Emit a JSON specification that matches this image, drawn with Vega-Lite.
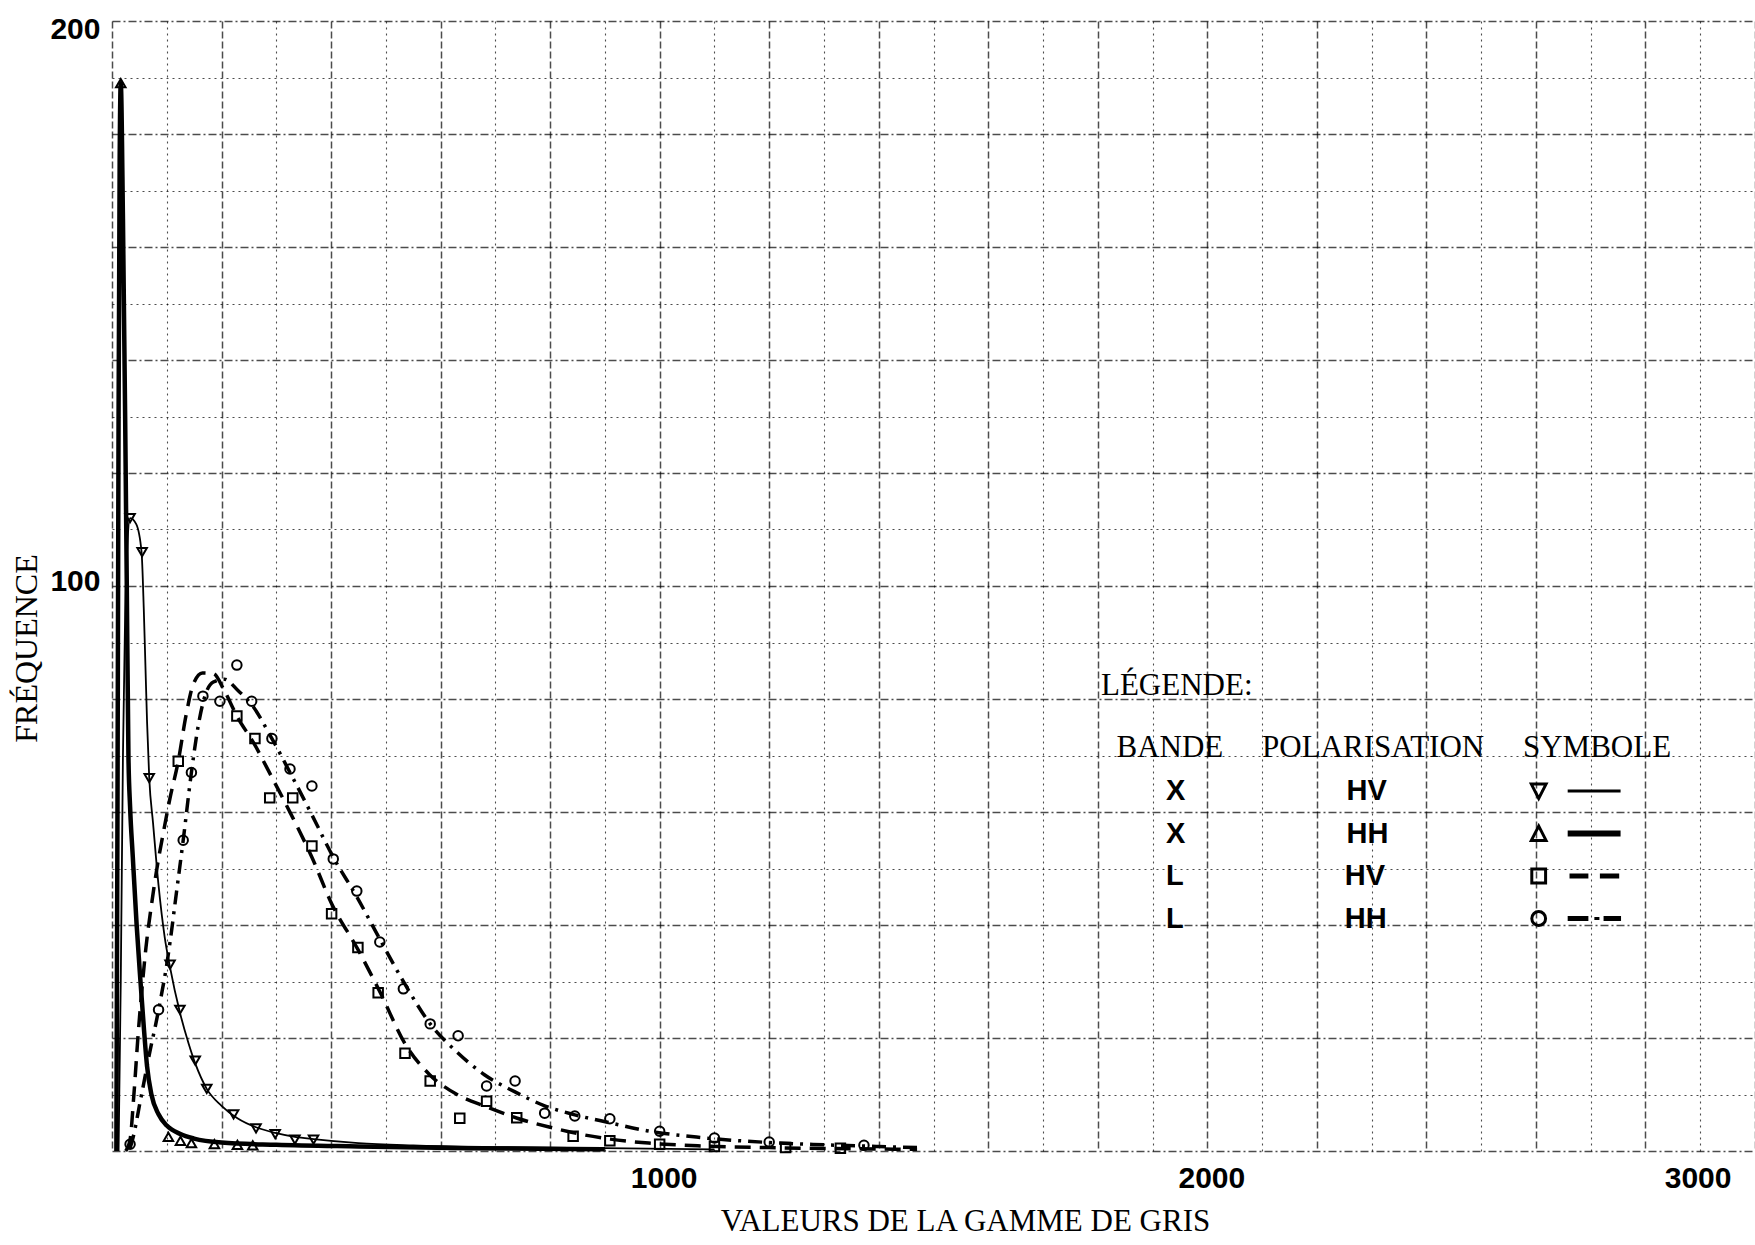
{
  "$schema": "https://vega.github.io/schema/vega-lite/v6.json",
  "width": 1643,
  "height": 1130,
  "autosize": {"type": "none"},
  "padding": {"left": 112, "top": 21, "right": 0, "bottom": 94},
  "background": "white",
  "config": {"view": {"stroke": null}},
  "datasets": {
    "curves": [
      {"s": "X HH", "x": 8, "y": 0}, {"s": "X HH", "x": 10, "y": 60}, {"s": "X HH", "x": 12, "y": 130}, {"s": "X HH", "x": 14, "y": 175}, {"s": "X HH", "x": 16, "y": 189},
      {"s": "X HH", "x": 20, "y": 165}, {"s": "X HH", "x": 24, "y": 130}, {"s": "X HH", "x": 27, "y": 100}, {"s": "X HH", "x": 30, "y": 70}, {"s": "X HH", "x": 33, "y": 61},
      {"s": "X HH", "x": 38, "y": 52}, {"s": "X HH", "x": 45, "y": 40}, {"s": "X HH", "x": 52, "y": 30}, {"s": "X HH", "x": 58, "y": 22}, {"s": "X HH", "x": 64, "y": 15},
      {"s": "X HH", "x": 72, "y": 10}, {"s": "X HH", "x": 85, "y": 6.5}, {"s": "X HH", "x": 100, "y": 4.5}, {"s": "X HH", "x": 125, "y": 3}, {"s": "X HH", "x": 150, "y": 2.2},
      {"s": "X HH", "x": 200, "y": 1.5}, {"s": "X HH", "x": 300, "y": 1.1}, {"s": "X HH", "x": 450, "y": 0.8}, {"s": "X HH", "x": 650, "y": 0.5}, {"s": "X HH", "x": 900, "y": 0.3},
      {"s": "X HV", "x": 12, "y": 0}, {"s": "X HV", "x": 16, "y": 30}, {"s": "X HV", "x": 20, "y": 70}, {"s": "X HV", "x": 24, "y": 95}, {"s": "X HV", "x": 28, "y": 107},
      {"s": "X HV", "x": 33, "y": 112}, {"s": "X HV", "x": 44, "y": 111}, {"s": "X HV", "x": 54, "y": 106}, {"s": "X HV", "x": 58, "y": 96}, {"s": "X HV", "x": 61, "y": 86},
      {"s": "X HV", "x": 64, "y": 76}, {"s": "X HV", "x": 68, "y": 66}, {"s": "X HV", "x": 75, "y": 58}, {"s": "X HV", "x": 85, "y": 47}, {"s": "X HV", "x": 96, "y": 38},
      {"s": "X HV", "x": 106, "y": 32.5}, {"s": "X HV", "x": 124, "y": 24.5}, {"s": "X HV", "x": 140, "y": 19}, {"s": "X HV", "x": 152, "y": 15.5}, {"s": "X HV", "x": 173, "y": 11},
      {"s": "X HV", "x": 200, "y": 8}, {"s": "X HV", "x": 229, "y": 5.8}, {"s": "X HV", "x": 263, "y": 4.2}, {"s": "X HV", "x": 298, "y": 3.2}, {"s": "X HV", "x": 334, "y": 2.5},
      {"s": "X HV", "x": 368, "y": 2.1}, {"s": "X HV", "x": 450, "y": 1.4}, {"s": "X HV", "x": 550, "y": 1}, {"s": "X HV", "x": 700, "y": 0.7}, {"s": "X HV", "x": 900, "y": 0.5}, {"s": "X HV", "x": 1100, "y": 0.3},
      {"s": "L HV", "x": 25, "y": 0}, {"s": "L HV", "x": 33, "y": 2}, {"s": "L HV", "x": 40, "y": 10}, {"s": "L HV", "x": 48, "y": 21}, {"s": "L HV", "x": 55, "y": 29},
      {"s": "L HV", "x": 62, "y": 36}, {"s": "L HV", "x": 72, "y": 43.5}, {"s": "L HV", "x": 82, "y": 50}, {"s": "L HV", "x": 95, "y": 57}, {"s": "L HV", "x": 106, "y": 62.5},
      {"s": "L HV", "x": 121, "y": 69}, {"s": "L HV", "x": 135, "y": 77}, {"s": "L HV", "x": 148, "y": 82.5}, {"s": "L HV", "x": 165, "y": 84.6}, {"s": "L HV", "x": 185, "y": 84.5},
      {"s": "L HV", "x": 205, "y": 81.5}, {"s": "L HV", "x": 228, "y": 77}, {"s": "L HV", "x": 260, "y": 72}, {"s": "L HV", "x": 290, "y": 66.5}, {"s": "L HV", "x": 330, "y": 59},
      {"s": "L HV", "x": 365, "y": 52}, {"s": "L HV", "x": 400, "y": 44}, {"s": "L HV", "x": 450, "y": 35.5}, {"s": "L HV", "x": 490, "y": 28}, {"s": "L HV", "x": 535, "y": 19},
      {"s": "L HV", "x": 580, "y": 13.5}, {"s": "L HV", "x": 630, "y": 10}, {"s": "L HV", "x": 684, "y": 7.8}, {"s": "L HV", "x": 740, "y": 5.8}, {"s": "L HV", "x": 800, "y": 4.2},
      {"s": "L HV", "x": 854, "y": 3}, {"s": "L HV", "x": 910, "y": 2.1}, {"s": "L HV", "x": 980, "y": 1.4}, {"s": "L HV", "x": 1075, "y": 0.9}, {"s": "L HV", "x": 1200, "y": 0.6},
      {"s": "L HV", "x": 1350, "y": 0.4}, {"s": "L HV", "x": 1470, "y": 0.3},
      {"s": "L HH", "x": 33, "y": 0.5}, {"s": "L HH", "x": 40, "y": 3}, {"s": "L HH", "x": 50, "y": 8}, {"s": "L HH", "x": 60, "y": 13}, {"s": "L HH", "x": 70, "y": 18},
      {"s": "L HH", "x": 80, "y": 22.5}, {"s": "L HH", "x": 90, "y": 27.5}, {"s": "L HH", "x": 100, "y": 33}, {"s": "L HH", "x": 106, "y": 37}, {"s": "L HH", "x": 118, "y": 46},
      {"s": "L HH", "x": 130, "y": 55}, {"s": "L HH", "x": 145, "y": 67}, {"s": "L HH", "x": 157, "y": 75}, {"s": "L HH", "x": 168, "y": 80}, {"s": "L HH", "x": 185, "y": 83},
      {"s": "L HH", "x": 205, "y": 83.5}, {"s": "L HH", "x": 230, "y": 81.5}, {"s": "L HH", "x": 255, "y": 79}, {"s": "L HH", "x": 292, "y": 73}, {"s": "L HH", "x": 325, "y": 67},
      {"s": "L HH", "x": 365, "y": 59.5}, {"s": "L HH", "x": 404, "y": 52}, {"s": "L HH", "x": 447, "y": 45}, {"s": "L HH", "x": 489, "y": 37.5}, {"s": "L HH", "x": 532, "y": 30},
      {"s": "L HH", "x": 581, "y": 22.5}, {"s": "L HH", "x": 630, "y": 17.5}, {"s": "L HH", "x": 680, "y": 13.5}, {"s": "L HH", "x": 735, "y": 10.5}, {"s": "L HH", "x": 790, "y": 8},
      {"s": "L HH", "x": 845, "y": 6.4}, {"s": "L HH", "x": 909, "y": 5}, {"s": "L HH", "x": 976, "y": 3.6}, {"s": "L HH", "x": 1074, "y": 2.4}, {"s": "L HH", "x": 1200, "y": 1.5},
      {"s": "L HH", "x": 1300, "y": 1.1}, {"s": "L HH", "x": 1400, "y": 0.8}, {"s": "L HH", "x": 1470, "y": 0.6}
    ],
    "pts": [
      {"s": "X HV", "x": 33, "y": 112}, {"s": "X HV", "x": 55, "y": 106}, {"s": "X HV", "x": 68, "y": 66}, {"s": "X HV", "x": 106, "y": 33}, {"s": "X HV", "x": 124, "y": 25},
      {"s": "X HV", "x": 152, "y": 16}, {"s": "X HV", "x": 173, "y": 11}, {"s": "X HV", "x": 222, "y": 6.5}, {"s": "X HV", "x": 263, "y": 4}, {"s": "X HV", "x": 298, "y": 3},
      {"s": "X HV", "x": 334, "y": 2}, {"s": "X HV", "x": 368, "y": 2},
      {"s": "X HH", "x": 16, "y": 189}, {"s": "X HH", "x": 103, "y": 2.5}, {"s": "X HH", "x": 125, "y": 1.8}, {"s": "X HH", "x": 145, "y": 1.4}, {"s": "X HH", "x": 187, "y": 1.2},
      {"s": "X HH", "x": 229, "y": 1.1}, {"s": "X HH", "x": 257, "y": 1},
      {"s": "L HV", "x": 121, "y": 69}, {"s": "L HV", "x": 228, "y": 77}, {"s": "L HV", "x": 261, "y": 73}, {"s": "L HV", "x": 288, "y": 62.5}, {"s": "L HV", "x": 330, "y": 62.5},
      {"s": "L HV", "x": 365, "y": 54}, {"s": "L HV", "x": 401, "y": 42}, {"s": "L HV", "x": 449, "y": 36}, {"s": "L HV", "x": 486, "y": 28}, {"s": "L HV", "x": 535, "y": 17.3},
      {"s": "L HV", "x": 581, "y": 12.4}, {"s": "L HV", "x": 635, "y": 5.8}, {"s": "L HV", "x": 684, "y": 8.8}, {"s": "L HV", "x": 739, "y": 5.9}, {"s": "L HV", "x": 842, "y": 2.6},
      {"s": "L HV", "x": 909, "y": 1.8}, {"s": "L HV", "x": 1000, "y": 1.2}, {"s": "L HV", "x": 1100, "y": 0.8}, {"s": "L HV", "x": 1230, "y": 0.6}, {"s": "L HV", "x": 1330, "y": 0.5},
      {"s": "L HH", "x": 33, "y": 1.2}, {"s": "L HH", "x": 85, "y": 25}, {"s": "L HH", "x": 130, "y": 55}, {"s": "L HH", "x": 145, "y": 67}, {"s": "L HH", "x": 166, "y": 80.5},
      {"s": "L HH", "x": 197, "y": 79.6}, {"s": "L HH", "x": 228, "y": 86}, {"s": "L HH", "x": 255, "y": 79.6}, {"s": "L HH", "x": 292, "y": 73}, {"s": "L HH", "x": 325, "y": 67.6},
      {"s": "L HH", "x": 365, "y": 64.6}, {"s": "L HH", "x": 404, "y": 51.7}, {"s": "L HH", "x": 447, "y": 46}, {"s": "L HH", "x": 489, "y": 37}, {"s": "L HH", "x": 532, "y": 28.7},
      {"s": "L HH", "x": 581, "y": 22.5}, {"s": "L HH", "x": 632, "y": 20.4}, {"s": "L HH", "x": 684, "y": 11.5}, {"s": "L HH", "x": 736, "y": 12.4}, {"s": "L HH", "x": 790, "y": 6.7},
      {"s": "L HH", "x": 845, "y": 6.2}, {"s": "L HH", "x": 909, "y": 5.7}, {"s": "L HH", "x": 1000, "y": 3.5}, {"s": "L HH", "x": 1100, "y": 2.3}, {"s": "L HH", "x": 1200, "y": 1.6},
      {"s": "L HH", "x": 1373, "y": 1}
    ]
  },
  "resolve": {"scale": {"shape": "independent"}, "legend": {"shape": "independent"}},
  "layer": [
    {
      "data": {"name": "curves"},
      "transform": [{"filter": "datum.s === 'X HV'"}],
      "mark": {"type": "line", "color": "black", "strokeWidth": 1.8, "interpolate": "monotone"},
      "encoding": {
        "x": {
          "field": "x", "type": "quantitative",
          "scale": {"domain": [0, 3000], "nice": false, "zero": false},
          "axis": {
            "title": "VALEURS DE LA GAMME DE GRIS",
            "titleFont": "Liberation Serif", "titleFontSize": 31, "titleFontWeight": "normal", "titleColor": "black",
            "titleX": 853, "titleY": 55, "titleAlign": "center", "titleBaseline": "top",
            "values": [0,50,100,150,200,250,300,350,400,450,500,550,600,650,700,750,800,850,900,950,1000,1050,1100,1150,1200,1250,1300,1350,1400,1450,1500,1550,1600,1650,1700,1750,1800,1850,1900,1950,2000,2050,2100,2150,2200,2250,2300,2350,2400,2450,2500,2550,2600,2650,2700,2750,2800,2850,2900,2950,3000],
            "format": "d",
            "labelExpr": "(datum.value === 1000 || datum.value === 2000 || datum.value === 3000) ? datum.label : ''",
            "labelFont": "Liberation Sans", "labelFontSize": 30, "labelFontWeight": "bold", "labelColor": "black",
            "labelPadding": 12, "labelOverlap": false,
            "labelAlign": {"condition": {"test": "datum.value === 3000", "value": "right"}, "value": "center"},
            "labelOffset": {"condition": {"test": "datum.value === 3000", "value": -24}, "value": 4},
            "domain": false, "ticks": false, "grid": true, "gridColor": "black",
            "gridWidth": {"condition": {"test": "datum.value % 200 === 0", "value": 1.5}, "value": 1.1},
            "gridDash": {"condition": {"test": "datum.value % 200 === 0", "value": [7, 3]}, "value": [2, 4]},
            "gridOpacity": {"condition": {"test": "datum.value % 100 === 0", "value": 0.7}, "value": 0.3}
          }
        },
        "y": {
          "field": "y", "type": "quantitative",
          "scale": {"domain": [0, 200], "nice": false},
          "axis": {
            "title": "FRÉQUENCE",
            "titleFont": "Liberation Serif", "titleFontSize": 32, "titleFontWeight": "normal", "titleColor": "black",
            "titleX": -86, "titleY": 627, "titleAngle": 270, "titleAlign": "center", "titleBaseline": "middle",
            "values": [0,5,10,15,20,25,30,35,40,45,50,55,60,65,70,75,80,85,90,95,100,105,110,115,120,125,130,135,140,145,150,155,160,165,170,175,180,185,190,195,200],
            "labelExpr": "(datum.value === 100 || datum.value === 200) ? datum.label : ''",
            "labelFont": "Liberation Sans", "labelFontSize": 30, "labelFontWeight": "bold", "labelColor": "black",
            "labelPadding": 12, "labelOverlap": false,
            "labelOffset": {"condition": {"test": "datum.value === 200", "value": 8}, "value": -5},
            "domain": false, "ticks": false, "grid": true, "gridColor": "black",
            "gridWidth": {"condition": {"test": "datum.value % 20 === 0", "value": 1.5}, "value": 1.1},
            "gridDash": {"condition": {"test": "datum.value % 20 === 0", "value": [8, 3, 2, 3]}, "value": [2, 4]},
            "gridOpacity": {"condition": {"test": "datum.value % 10 === 0", "value": 0.7}, "value": 0.3}
          }
        }
      }
    },
    {
      "data": {"name": "curves"},
      "transform": [{"filter": "datum.s === 'X HH'"}],
      "mark": {"type": "line", "color": "black", "strokeWidth": 4.5, "interpolate": "monotone"},
      "encoding": {"x": {"field": "x", "type": "quantitative"}, "y": {"field": "y", "type": "quantitative"}}
    },
    {
      "data": {"name": "curves"},
      "transform": [{"filter": "datum.s === 'L HV'"}],
      "mark": {"type": "line", "color": "black", "strokeWidth": 3.5, "strokeDash": [16, 9], "interpolate": "monotone"},
      "encoding": {"x": {"field": "x", "type": "quantitative"}, "y": {"field": "y", "type": "quantitative"}}
    },
    {
      "data": {"name": "curves"},
      "transform": [{"filter": "datum.s === 'L HH'"}],
      "mark": {"type": "line", "color": "black", "strokeWidth": 3.5, "strokeDash": [14, 7, 3, 7], "interpolate": "monotone"},
      "encoding": {"x": {"field": "x", "type": "quantitative"}, "y": {"field": "y", "type": "quantitative"}}
    },
    {
      "data": {"name": "pts"},
      "mark": {"type": "point", "filled": false, "color": "black", "size": 90, "strokeWidth": 2, "opacity": 1},
      "encoding": {
        "x": {"field": "x", "type": "quantitative"},
        "y": {"field": "y", "type": "quantitative"},
        "shape": {
          "field": "s", "type": "nominal", "legend": null,
          "scale": {"domain": ["X HV", "X HH", "L HV", "L HH"], "range": ["triangle-down", "triangle-up", "square", "circle"]}
        }
      }
    },
    {
      "data": {"name": "pts"},
      "transform": [{"filter": "datum.x < 0"}],
      "mark": {"type": "point", "filled": false, "color": "black", "opacity": 1},
      "encoding": {
        "shape": {
          "field": "s", "type": "nominal",
          "scale": {
            "domain": ["X HV", "X HH", "L HV", "L HH"],
            "range": [
              "M-0.96,-0.15L-0.64,-0.15L-0.8,0.16Z M-0.17,0L0.98,0",
              "M-0.8,-0.16L-0.96,0.15L-0.64,0.15Z M-0.17,-0.03L0.98,-0.03 M-0.17,0.03L0.98,0.03",
              "M-0.95,-0.15L-0.65,-0.15L-0.65,0.15L-0.95,0.15Z M-0.13,-0.02L0.28,-0.02 M-0.13,0.02L0.28,0.02 M0.53,-0.02L0.95,-0.02 M0.53,0.02L0.95,0.02",
              "M-0.95,0A0.15,0.15 0 1,1 -0.65,0A0.15,0.15 0 1,1 -0.95,0Z M-0.17,-0.02L0.28,-0.02 M-0.17,0.02L0.28,0.02 M0.41,0L0.52,0 M0.61,-0.02L0.99,-0.02 M0.61,0.02L0.99,0.02"
            ]
          },
          "legend": {
            "orient": "none", "legendX": 989, "legendY": 650, "padding": 0,
            "title": ["LÉGENDE:", "\u200b\u00a0\u00a0BANDE\u00a0\u00a0\u00a0\u00a0\u00a0POLARISATION\u00a0\u00a0\u00a0\u00a0\u00a0SYMBOLE"],
            "titleFont": "Liberation Serif", "titleFontSize": 31, "titleFontWeight": "normal", "titleColor": "black",
            "titleLineHeight": 62, "titlePadding": 12, "titleLimit": 1000, "titleAnchor": "start", "titleAlign": "left",
            "labelFont": "Liberation Sans", "labelFontSize": 29, "labelFontWeight": "bold", "labelColor": "black",
            "labelAlign": "left", "labelOffset": -457, "labelLimit": 800,
            "labelExpr": "replace(datum.label, ' ', '\u00a0\u00a0\u00a0\u00a0\u00a0\u00a0\u00a0\u00a0\u00a0\u00a0\u00a0\u00a0\u00a0\u00a0\u00a0\u00a0\u00a0\u00a0\u00a0\u00a0') + '\u200b\u00a0\u00a0\u00a0\u00a0\u00a0\u00a0\u00a0\u00a0\u00a0\u00a0\u00a0\u00a0\u00a0\u00a0\u00a0\u00a0\u00a0\u00a0\u00a0\u00a0\u00a0\u00a0\u00a0\u00a0\u00a0\u00a0\u00a0\u00a0\u00a0\u00a0\u00a0\u00a0\u00a0\u00a0\u00a0\u200b'",
            "symbolSize": 8464, "symbolOffset": 427, "symbolStrokeWidth": 3, "symbolStrokeColor": "black",
            "symbolFillColor": "transparent", "symbolOpacity": 1,
            "clipHeight": 30, "rowPadding": 12.5
          }
        }
      }
    }
  ]
}
